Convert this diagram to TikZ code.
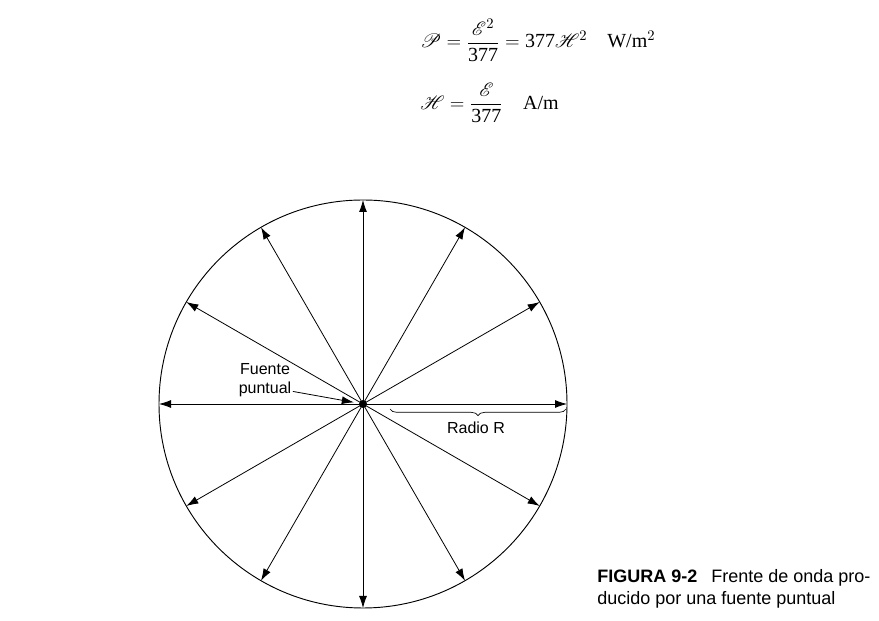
\documentclass[tikz,border=0pt]{standalone}
\usepackage{fontspec}
\usepackage{mathrsfs}
\setmainfont{Liberation Serif}
\setsansfont{Liberation Sans}
\usetikzlibrary{arrows.meta,decorations.pathreplacing,calc}

\begin{document}
\begin{tikzpicture}[x=0.75pt,y=0.75pt,
    ray/.style={-{Latex[length=9pt,width=6pt]},line width=0.6pt},
    lbl/.style={font=\sffamily\fontsize{12}{14}\selectfont,inner sep=0pt,align=center},
    eqn/.style={font=\fontsize{15}{18}\selectfont,inner sep=0pt,anchor=west}]
  \useasboundingbox (0,0) rectangle (879,621);

  %ecuaciones
  \node[eqn] (eqP) at (420,581) {$\displaystyle \mathscr{P}=\frac{\mathscr{E}^2}{\textrm{377}}=\textrm{377}\mathscr{H}^2\quad \textrm{W/m}^2$};
  \node[eqn] (eqH) at (420,518) {$\displaystyle \mathscr{H}=\frac{\mathscr{E}}{\textrm{377}}\quad \textrm{A/m}$};

  %frente de onda
  \node[circle,fill,inner sep=0pt,minimum size=6pt] (c) at (363,217) {};
  \draw[line width=0.7pt] (c.center) circle (204);
  \foreach \a in {0,30,...,330}{
    \coordinate (p\a) at ($(363,217)+(\a:204)$);
    \draw[ray] (c.center) -- (p\a);
  }

  %etiquetas
  \node[lbl] (fuente) at (265,241) {Fuente\\puntual};
  \draw[ray,shorten >=7pt] ([xshift=1pt,yshift=4pt]fuente.south east) -- (c.center);

  \coordinate (r0) at (390,212);
  \coordinate (r1) at (566,212);
  \draw[decorate,decoration={brace,mirror,amplitude=5pt},line width=0.5pt] (r0) -- (r1);
  \node[lbl] (radio) at (476,193) {Radio R};

  %leyenda
  \node[font=\sffamily\fontsize{13.5}{16.5}\selectfont,inner sep=0pt,align=left,anchor=west] (cap) at (597,32)
    {\textbf{FIGURA 9-2}\enspace\ Frente de onda pro-\\ducido por una fuente puntual};
\end{tikzpicture}
\end{document}
